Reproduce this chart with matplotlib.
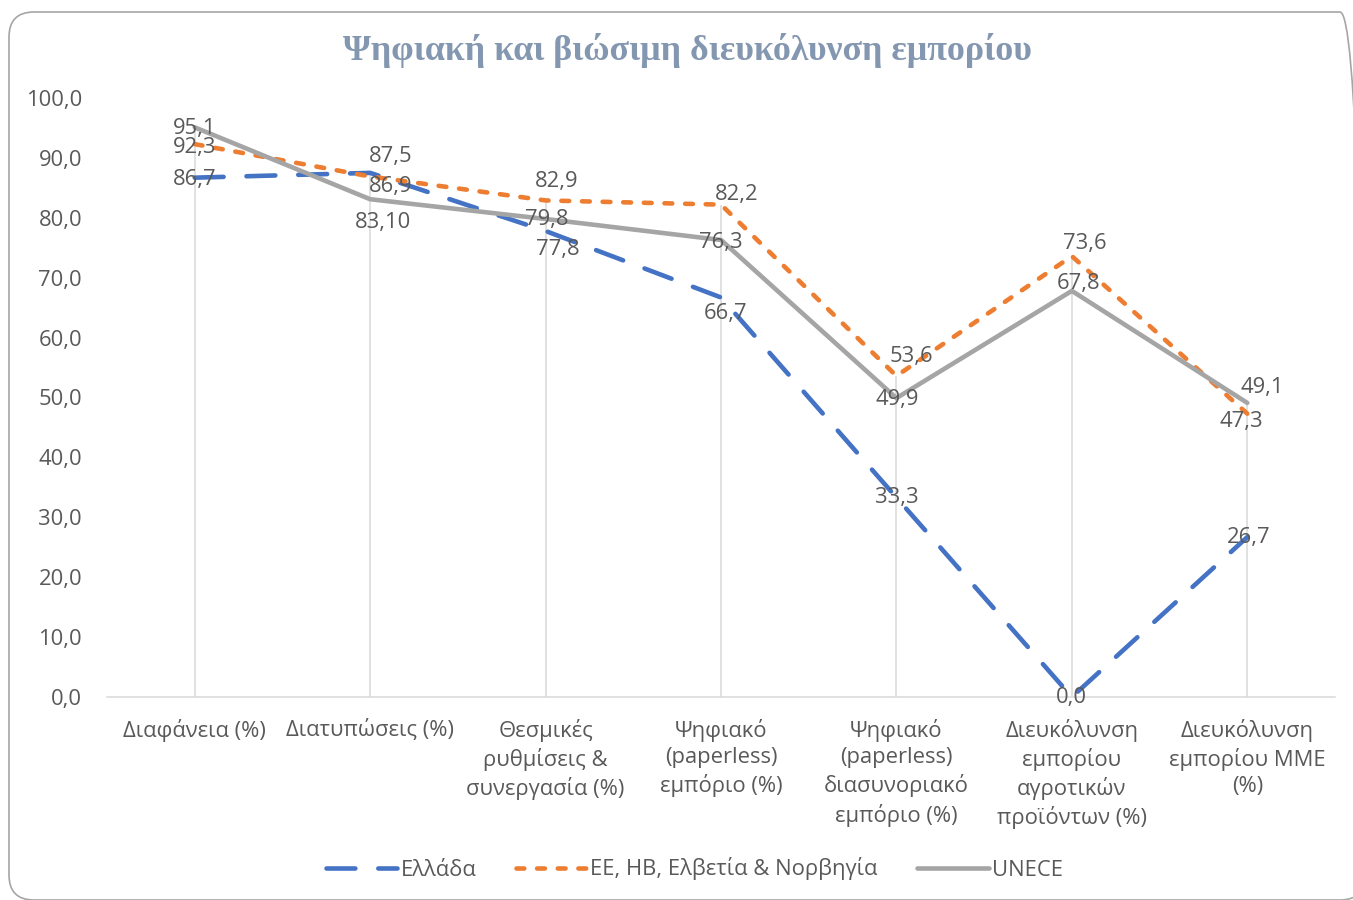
import matplotlib
matplotlib.use("Agg")
import matplotlib.pyplot as plt
from matplotlib.patches import FancyBboxPatch

plt.rcParams['font.family'] = ['Open Sans', 'DejaVu Sans']

# --- data ---
categories = [
    "Διαφάνεια (%)",
    "Διατυπώσεις (%)",
    "Θεσμικές\nρυθμίσεις &\nσυνεργασία (%)",
    "Ψηφιακό\n(paperless)\nεμπόριο (%)",
    "Ψηφιακό\n(paperless)\nδιασυνοριακό\nεμπόριο (%)",
    "Διευκόλυνση\nεμπορίου\nαγροτικών\nπροϊόντων (%)",
    "Διευκόλυνση\nεμπορίου ΜΜΕ\n(%)",
]
greece = [86.7, 87.5, 77.8, 66.7, 33.3, 0.0, 26.7]
eu_uk_ch_no = [92.3, 86.9, 82.9, 82.2, 53.6, 73.6, 47.3]
unece = [95.1, 83.1, 79.8, 76.3, 49.9, 67.8, 49.1]
unece_decimals = [1, 2, 1, 1, 1, 1, 1]  # Excel showed "83,10"

series_names = ["Ελλάδα", "ΕΕ, ΗΒ, Ελβετία & Νορβηγία", "UNECE"]

# label offsets in pixels (dx, dy) relative to each point
greece_off = [(0, -2), (21, 16), (12, -19), (5, -16), (0, 0), (0, 0), (1, 0)]
eu_off = [(0, -3), (20, -10), (11, 19), (16, 10), (15, 19), (13, 13), (-6, -8)]
unece_off = [(0, -1), (13, -23), (1, -1), (0, -3), (1, -1), (7, 7), (15, 15)]

TEXT = '#595959'
FS = 15.8

fig = plt.figure(figsize=(13.53, 9.0), dpi=100)
ax = fig.add_axes([107 / 1353, 1 - 697 / 900, (1335 - 107) / 1353, (697 - 98) / 900])

x = list(range(len(categories)))

# drop lines from max value down to axis
tops = [max(a, b, c) for a, b, c in zip(greece, eu_uk_ch_no, unece)]
ax.vlines(x, 0, tops, color='#D9D9D9', lw=1.1, zorder=1)

LW = 3.3
l1, = ax.plot(x, greece, color='#4472C4', lw=LW, dashes=(6.3, 5.0),
              dash_capstyle='round', solid_capstyle='round', zorder=3)
l2, = ax.plot(x, eu_uk_ch_no, color='#ED7D31', lw=LW, dashes=(1.7, 2.8),
              dash_capstyle='round', zorder=4)
l3, = ax.plot(x, unece, color='#A5A5A5', lw=LW, solid_capstyle='round',
              solid_joinstyle='miter', zorder=5)


def fmt(v, d=1):
    return f"{v:.{d}f}".replace('.', ',')


for vals, offs, decs in [(greece, greece_off, [1] * 7),
                         (eu_uk_ch_no, eu_off, [1] * 7),
                         (unece, unece_off, unece_decimals)]:
    for xi, v, (dx, dy), d in zip(x, vals, offs, decs):
        ax.annotate(fmt(v, d), (xi, v), xytext=(dx, dy), textcoords='offset pixels',
                    ha='center', va='center', fontsize=FS, color=TEXT, zorder=6)

ax.set_xlim(-0.5, len(categories) - 0.5)
ax.set_ylim(0, 100)
ax.set_yticks(range(0, 101, 10))
ax.set_yticklabels([fmt(v) for v in range(0, 101, 10)])
ax.set_xticks(x)
ax.set_xticklabels(categories, linespacing=1.35)
ax.tick_params(axis='both', length=0, labelsize=FS, labelcolor=TEXT)
ax.tick_params(axis='y', pad=18)
ax.tick_params(axis='x', pad=15.5)
for s in ['top', 'right', 'left']:
    ax.spines[s].set_visible(False)
ax.spines['bottom'].set_color('#D9D9D9')
ax.spines['bottom'].set_linewidth(1.1)
ax.spines['bottom'].set_zorder(2)

fig.text(687 / 1353, 1 - 50 / 900, "Ψηφιακή και βιώσιμη διευκόλυνση εμπορίου",
         ha='center', va='center', fontsize=25.8, fontweight='bold',
         color='#8497B0', family='Liberation Serif')

fig.legend([l1, l2, l3], series_names, loc='center',
           bbox_to_anchor=(0.5 + 18 / 1353, 1 - 869 / 900),
           ncol=3, frameon=False, fontsize=FS, labelcolor=TEXT, handlelength=3.25,
           handletextpad=0.15, columnspacing=1.8)

# rounded chart border (partly outside the canvas on right/bottom)
border = FancyBboxPatch((0.09 + 0.25, 0.0 + 0.25), 13.65 - 0.09 - 0.5, 8.88 - 0.0 - 0.5,
                        boxstyle='round,pad=0.25', transform=fig.dpi_scale_trans,
                        fc='none', ec='#A6A6A6', lw=1.2, clip_on=False)
fig.patches.append(border)

fig.savefig('out.png', dpi=100)
